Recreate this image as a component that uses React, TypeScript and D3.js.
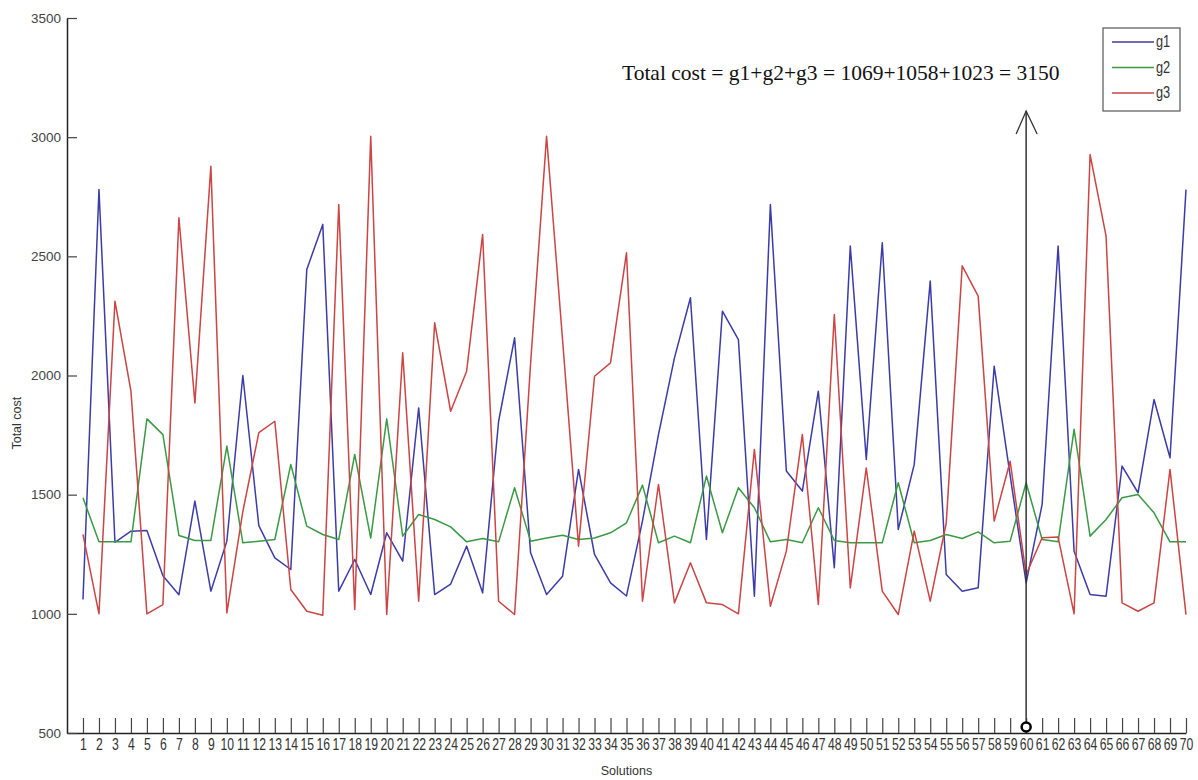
import * as d3 from "d3";
import { useRef, useEffect } from "react";

const solutions = d3.range(1, 71);

const g1 = [
  1060, 2780, 1300, 1347, 1350, 1160, 1080, 1473, 1095, 1305,
  2000, 1370, 1235, 1186, 2445, 2634, 1095, 1228, 1081, 1340,
  1221, 1864, 1081, 1125, 1284, 1088, 1808, 2158, 1256, 1081,
  1158, 1606, 1249, 1130, 1075, 1390, 1752, 2074, 2326, 1312,
  2270, 2151, 1074, 2717, 1599, 1515, 1934, 1193, 2543, 1648,
  2557, 1354, 1627, 2396, 1165, 1095, 1109, 2039, 1580, 1130,
  1459, 2543, 1263, 1081, 1074, 1620, 1508, 1899, 1655, 2780,
];

const g2 = [
  1487, 1302, 1302, 1302, 1818, 1752, 1329, 1308, 1308, 1704,
  1298, 1305, 1312, 1627, 1368, 1333, 1312, 1669, 1318, 1818,
  1326, 1417, 1396, 1365, 1302, 1316, 1302, 1529, 1305, 1318,
  1330, 1312, 1318, 1340, 1382, 1540, 1298, 1326, 1298, 1578,
  1340, 1529, 1445, 1302, 1312, 1298, 1445, 1308, 1298, 1298,
  1298, 1550, 1298, 1308, 1333, 1316, 1344, 1298, 1305, 1550,
  1312, 1302, 1774, 1326, 1396, 1487, 1501, 1424, 1302, 1302,
];

const g3 = [
  1333, 1000, 2312, 1934, 1000, 1039, 2662, 1885, 2878, 1004,
  1430, 1760, 1808, 1102, 1011, 994, 2717, 1018, 3004, 997,
  2095, 1053, 2221, 1850, 2018, 2592, 1053, 997, 2050, 3004,
  2150, 1284, 1997, 2053, 2515, 1053, 1543, 1046, 1214, 1046,
  1039, 1000, 1690, 1032, 1263, 1752, 1039, 2256, 1109, 1612,
  1095, 997, 1347, 1053, 1380, 2460, 2333, 1389, 1640, 1165,
  1319, 1322, 1000, 2927, 2585, 1046, 1011, 1046, 1606, 997,
];

const seriesNames = ["g1", "g2", "g3"];
const seriesColors = ["#3c3ca8", "#3a9a44", "#cc4444"];
const yTicks = [500, 1000, 1500, 2000, 2500, 3000, 3500];

const bestSolution = 60;
const arrowTop = 3110;
const annotation = "Total cost = g1+g2+g3 = 1069+1058+1023 = 3150";

const sans = "'Liberation Sans', Arial, sans-serif";

const CostChart = () => {
  const container = useRef<HTMLDivElement>(null);

  useEffect(() => {
    createChart();
  });

  const createChart = () => {
    const node = container.current;
    const dims = { width: 1198, height: 780 };

    const svg = d3
      .select(node)
      .selectAll("svg")
      .data([0])
      .join("svg")
      .attr("width", dims.width)
      .attr("height", dims.height)
      .style("display", "block")
      .style("background", "#fff");

    svg.selectAll("*").remove();

    const xScale = d3.scaleLinear().domain([0, 70]).range([67, 1186]);
    const yScale = d3.scaleLinear().domain([500, 3500]).range([733, 18]);

    // axes (ticks point inward)
    const xaxis = d3
      .axisBottom(xScale)
      .tickValues(solutions)
      .tickFormat(d3.format("d"))
      .tickSizeInner(-15)
      .tickSizeOuter(0)
      .tickPadding(5);

    const xaxisg = svg
      .append("g")
      .attr("transform", `translate(0,${yScale(500)})`)
      .call(xaxis);
    xaxisg.select(".domain").attr("stroke", "#222").attr("stroke-width", 1.5);
    xaxisg.selectAll(".tick line").attr("stroke", "#444").attr("stroke-width", 1.2);
    // squeeze labels horizontally, they are set in a narrow face in the original
    xaxisg
      .selectAll(".tick text")
      .attr("font-family", sans)
      .attr("font-size", 16.5)
      .attr("fill", "#333")
      .attr("transform", "scale(0.74,1)");

    const yaxis = d3
      .axisLeft(yScale)
      .tickValues(yTicks)
      .tickFormat(d3.format("d"))
      .tickSizeInner(-10)
      .tickSizeOuter(0)
      .tickPadding(6);

    const yaxisg = svg
      .append("g")
      .attr("transform", `translate(${xScale(0)},0)`)
      .call(yaxis);
    yaxisg.select(".domain").attr("stroke", "#222").attr("stroke-width", 1.5);
    yaxisg.selectAll(".tick line").attr("stroke", "#444").attr("stroke-width", 1.2);
    yaxisg
      .selectAll(".tick text")
      .attr("font-family", sans)
      .attr("font-size", 13.5)
      .attr("fill", "#444");

    // axis titles
    svg
      .append("text")
      .attr("x", (xScale(0) + xScale(70)) / 2)
      .attr("y", 775)
      .attr("text-anchor", "middle")
      .attr("font-family", sans)
      .attr("font-size", 12.5)
      .attr("fill", "#333")
      .text("Solutions");

    svg
      .append("text")
      .attr("transform", `translate(21,${yScale(1800)}) rotate(-90)`)
      .attr("text-anchor", "middle")
      .attr("font-family", sans)
      .attr("font-size", 12.5)
      .attr("fill", "#333")
      .text("Total cost");

    // series lines
    const allSeries = [g1, g2, g3];
    const line = d3
      .line<number>()
      .x((d, i) => xScale(solutions[i]))
      .y((d) => yScale(d));

    svg
      .selectAll(".series")
      .data(allSeries)
      .join("path")
      .attr("class", "series")
      .attr("d", (d) => line(d))
      .attr("fill", "none")
      .attr("stroke", (d, i) => seriesColors[i])
      .attr("stroke-width", 1.5)
      .attr("stroke-linejoin", "round");

    // arrow pointing at the best solution
    const ax = xScale(bestSolution);
    svg
      .append("line")
      .attr("x1", ax)
      .attr("x2", ax)
      .attr("y1", yScale(500))
      .attr("y2", yScale(arrowTop))
      .attr("stroke", "#333")
      .attr("stroke-width", 1.5);

    svg
      .append("path")
      .attr(
        "d",
        `M${ax - 10},${yScale(arrowTop) + 23}L${ax},${yScale(arrowTop)}L${ax + 11},${yScale(arrowTop) + 23}`
      )
      .attr("fill", "none")
      .attr("stroke", "#333")
      .attr("stroke-width", 1.3);

    svg
      .append("circle")
      .attr("cx", ax)
      .attr("cy", yScale(500) - 6)
      .attr("r", 4.5)
      .attr("fill", "#fff")
      .attr("stroke", "#000")
      .attr("stroke-width", 2.5);

    svg
      .append("text")
      .attr("x", 622)
      .attr("y", 80)
      .attr("font-family", "'Liberation Serif', 'Times New Roman', serif")
      .attr("font-size", 21.5)
      .attr("fill", "#111")
      .text(annotation);

    // legend
    const legend = svg.append("g").attr("transform", "translate(1103,28)");
    legend
      .append("rect")
      .attr("width", 77)
      .attr("height", 83)
      .attr("fill", "#fff")
      .attr("stroke", "#555")
      .attr("stroke-width", 1.2);

    const items = legend
      .selectAll(".leg-item")
      .data(seriesNames)
      .join("g")
      .attr("class", "leg-item")
      .attr("transform", (d, i) => `translate(0,${14 + i * 25.5})`);

    items
      .append("line")
      .attr("x1", 9)
      .attr("x2", 51)
      .attr("stroke", (d, i) => seriesColors[i])
      .attr("stroke-width", 1.5);

    items
      .append("text")
      .attr("transform", "translate(53,5) scale(0.8,1)")
      .attr("font-family", sans)
      .attr("font-size", 16)
      .attr("fill", "#333")
      .text((d) => d);

    return;
  };

  return <div ref={container} style={{ position: "absolute", left: 0, top: 0 }}></div>;
};

export default function App() {
  return <CostChart />;
}
